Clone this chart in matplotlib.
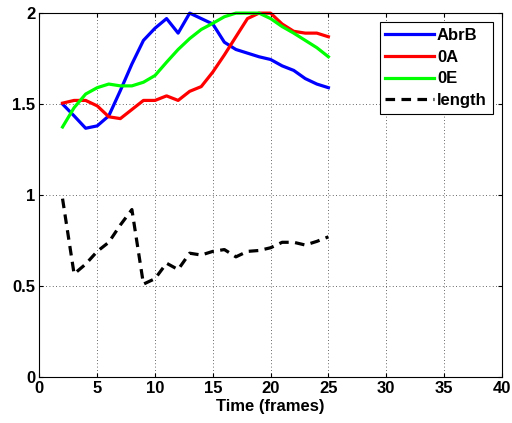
import numpy as np
import matplotlib
matplotlib.use("Agg")
import matplotlib.pyplot as plt

# ---------------------------------------------------------------------------
# Data
# ---------------------------------------------------------------------------
frames = list(range(2, 26))

abrb = [1.50, 1.435, 1.367, 1.38, 1.435, 1.574, 1.72, 1.85, 1.917, 1.97,
        1.89, 2.00, 1.97, 1.94, 1.84, 1.80, 1.78, 1.76, 1.745, 1.71,
        1.685, 1.64, 1.61, 1.59]
oa = [1.505, 1.52, 1.52, 1.49, 1.43, 1.42, 1.47, 1.52, 1.52, 1.545,
      1.52, 1.57, 1.596, 1.676, 1.77, 1.87, 1.97, 2.00, 2.00, 1.94,
      1.90, 1.89, 1.89, 1.87]
oe = [1.374, 1.48, 1.555, 1.59, 1.61, 1.60, 1.60, 1.62, 1.657, 1.73,
      1.80, 1.86, 1.91, 1.944, 1.98, 2.00, 2.00, 2.00, 1.97, 1.926,
      1.89, 1.85, 1.81, 1.76]
length = [0.98, 0.566, 0.62, 0.69, 0.74, 0.835, 0.92, 0.51, 0.54, 0.625,
          0.59, 0.68, 0.67, 0.69, 0.70, 0.66, 0.69, 0.695, 0.71, 0.74,
          0.74, 0.725, 0.745, 0.77]

series_labels = ["AbrB", "0A", "0E", "length"]
xticks = list(range(0, 41, 5))
yticks = [0, 0.5, 1, 1.5, 2]

# ---------------------------------------------------------------------------
# Plot
# ---------------------------------------------------------------------------
plt.rcParams["font.family"] = ["Liberation Sans", "DejaVu Sans"]
plt.rcParams["font.weight"] = "bold"

fig = plt.figure(figsize=(5.12, 4.23), dpi=100)
ax = fig.add_axes([0.077, 0.109, 0.903, 0.860])

ax.plot(frames, abrb, color="#0000ff", lw=2.3, label=series_labels[0], clip_on=False)
ax.plot(frames, oa, color="#ff0000", lw=2.3, label=series_labels[1], clip_on=False)
ax.plot(frames, oe, color="#00ff00", lw=2.3, label=series_labels[2], clip_on=False)
ax.plot(frames, length, color="black", lw=2.3, ls=(0, (3, 2)),
        label=series_labels[3], clip_on=False)

ax.set_xlim(0, 40)
ax.set_ylim(0, 2)
ax.set_xticks(xticks)
ax.set_yticks(yticks)
ax.set_yticklabels(["0", "0.5", "1", "1.5", "2"])
ax.tick_params(direction="in", length=3, labelsize=12, pad=3,
               top=True, right=True)
ax.grid(True, color="#333333", linestyle=(0, (1, 3)), linewidth=0.6)
for sp in ax.spines.values():
    sp.set_linewidth(0.8)
ax.set_xlabel("Time (frames)", fontsize=12, fontweight="bold", labelpad=2)

leg = ax.legend(loc="upper right", fontsize=12, frameon=True, fancybox=False,
                edgecolor="black", handlelength=2.9, handletextpad=0.2,
                labelspacing=0.4, borderpad=0.35, borderaxespad=0.55)
leg.get_frame().set_linewidth(0.8)
leg.get_frame().set_alpha(1)

fig.savefig("out.png", dpi=100)
